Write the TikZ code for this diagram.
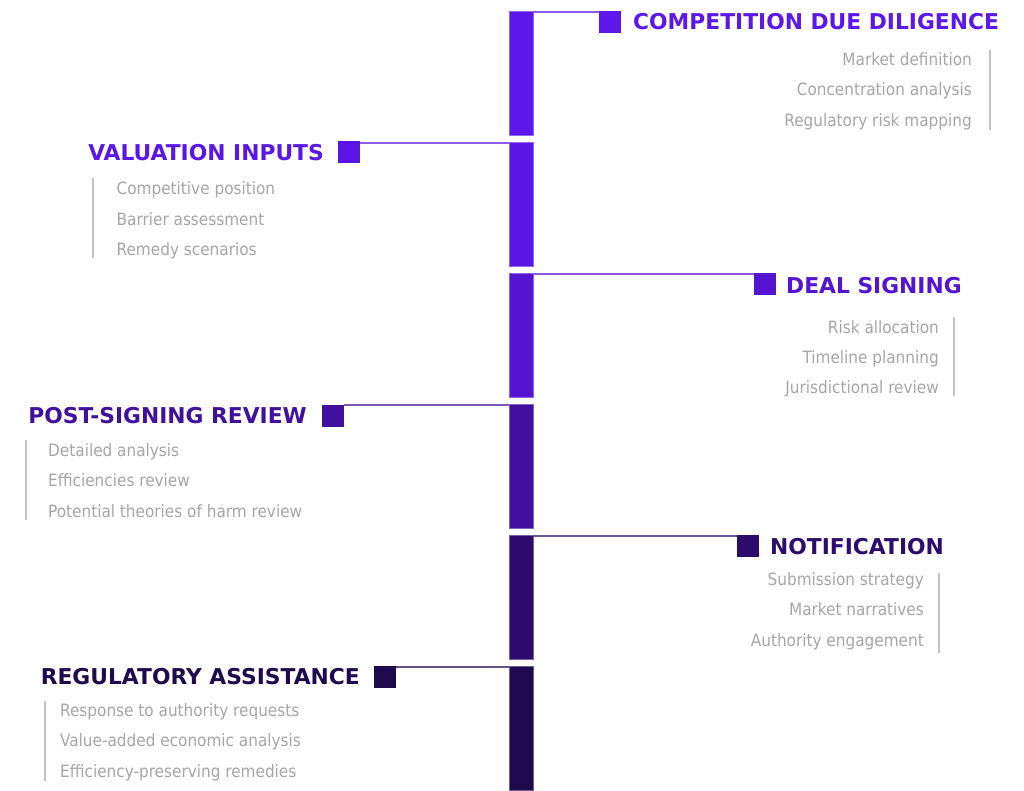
\documentclass[tikz,border=0pt]{standalone}
\usepackage{fontspec}
\setmainfont{DejaVu Sans Condensed}
\newfontfamily\titlefont{DejaVu Sans}
\definecolor{cA}{HTML}{5E17EB}
\definecolor{cB}{HTML}{5B16E6}
\definecolor{cC}{HTML}{5414D2}
\definecolor{cD}{HTML}{41109F}
\definecolor{cE}{HTML}{2E0C6E}
\definecolor{cF}{HTML}{200A4F}
\definecolor{itemgray}{HTML}{A6A6A6}
\definecolor{rulegray}{HTML}{C4C4C4}
\tikzset{
 seg/.style={rectangle, inner sep=0pt, outer sep=0pt, minimum width=24pt, minimum height=124pt, fill=#1, draw=#1!65!white, line width=0.8pt},
 sq/.style={rectangle, inner sep=0pt, outer sep=0pt, minimum size=22pt, fill=#1},
 ttl/.style={inner sep=0pt, text=#1, font=\titlefont\fontsize{21.8}{26}\selectfont\bfseries},
 itm/.style={inner sep=0pt, text=itemgray, font=\fontsize{17}{20}\selectfont},
 conn/.style={draw=#1!70!white, line width=1.5pt},
 sidebar/.style={draw=rulegray, line width=2pt},
}
\begin{document}
\begin{tikzpicture}[x=1pt,y=-1pt]
\useasboundingbox (0,0) rectangle (1024,791);
% bar segments
\node[seg=cA] (b1) at (521,73) {};
\node[seg=cB] (b2) at (521,204) {};
\node[seg=cC] (b3) at (521,335) {};
\node[seg=cD] (b4) at (521,466) {};
\node[seg=cE] (b5) at (521,597) {};
\node[seg=cF] (b6) at (521,728) {};
% squares
\node[sq=cA] (s1) at (610,22) {};
\node[sq=cB] (s2) at (348.5,152.5) {};
\node[sq=cC] (s3) at (765,284) {};
\node[sq=cD] (s4) at (333,416) {};
\node[sq=cE] (s5) at (748,546) {};
\node[sq=cF] (s6) at (385,677) {};
% connectors
\draw[conn=cA] ([yshift=-0.8pt]b1.north east) -- ([yshift=-0.8pt]b1.north east -| s1.west);
\draw[conn=cB] ([yshift=-0.8pt]b2.north west) -- ([yshift=-0.8pt]b2.north west -| s2.east);
\draw[conn=cC] ([yshift=-0.8pt]b3.north east) -- ([yshift=-0.8pt]b3.north east -| s3.west);
\draw[conn=cD] ([yshift=-0.8pt]b4.north west) -- ([yshift=-0.8pt]b4.north west -| s4.east);
\draw[conn=cE] ([yshift=-0.8pt]b5.north east) -- ([yshift=-0.8pt]b5.north east -| s5.west);
\draw[conn=cF] ([yshift=-0.8pt]b6.north west) -- ([yshift=-0.8pt]b6.north west -| s6.east);
% titles
\node[ttl=cA, anchor=base west] (t1) at (633,30) {COMPETITION DUE DILIGENCE};
\node[ttl=cB, anchor=base east] (t2) at (324,160.7) {VALUATION INPUTS};
\node[ttl=cC, anchor=base west] (t3) at (786,294) {DEAL SIGNING};
\node[ttl=cD, anchor=base east] (t4) at (307,423) {POST-SIGNING REVIEW};
\node[ttl=cE, anchor=base west] (t5) at (770,554.3) {NOTIFICATION};
\node[ttl=cF, anchor=base east] (t6) at (360,684) {REGULATORY ASSISTANCE};
% items seg1
\node[itm, anchor=base east] (i11) at (972,65.7) {Market definition};
\node[itm, anchor=base east] (i12) at (972,96) {Concentration analysis};
\node[itm, anchor=base east] (i13) at (972,126.7) {Regulatory risk mapping};
\draw[sidebar] (990,50) -- (990,130);
% seg2
\node[itm, anchor=base west] (i21) at (116.5,195) {Competitive position};
\node[itm, anchor=base west] (i22) at (116.5,225.7) {Barrier assessment};
\node[itm, anchor=base west] (i23) at (116.5,256) {Remedy scenarios};
\draw[sidebar] (92.7,178) -- (92.7,258);
% seg3
\node[itm, anchor=base east] (i31) at (939,333.3) {Risk allocation};
\node[itm, anchor=base east] (i32) at (939,363.3) {Timeline planning};
\node[itm, anchor=base east] (i33) at (939,393.5) {Jurisdictional review};
\draw[sidebar] (953.5,317) -- (953.5,396);
% seg4
\node[itm, anchor=base west] (i41) at (48,456) {Detailed analysis};
\node[itm, anchor=base west] (i42) at (48,486) {Efficiencies review};
\node[itm, anchor=base west] (i43) at (48,517) {Potential theories of harm review};
\draw[sidebar] (26,440) -- (26,520);
% seg5
\node[itm, anchor=base east] (i51) at (924,585.7) {Submission strategy};
\node[itm, anchor=base east] (i52) at (924,615.7) {Market narratives};
\node[itm, anchor=base east] (i53) at (924,646.7) {Authority engagement};
\draw[sidebar] (939.3,572.7) -- (939.3,652.7);
% seg6
\node[itm, anchor=base west] (i61) at (60,716) {Response to authority requests};
\node[itm, anchor=base west] (i62) at (60,746.5) {Value-added economic analysis};
\node[itm, anchor=base west] (i63) at (60,777) {Efficiency-preserving remedies};
\draw[sidebar] (45,701) -- (45,781);
\end{tikzpicture}
\end{document}
